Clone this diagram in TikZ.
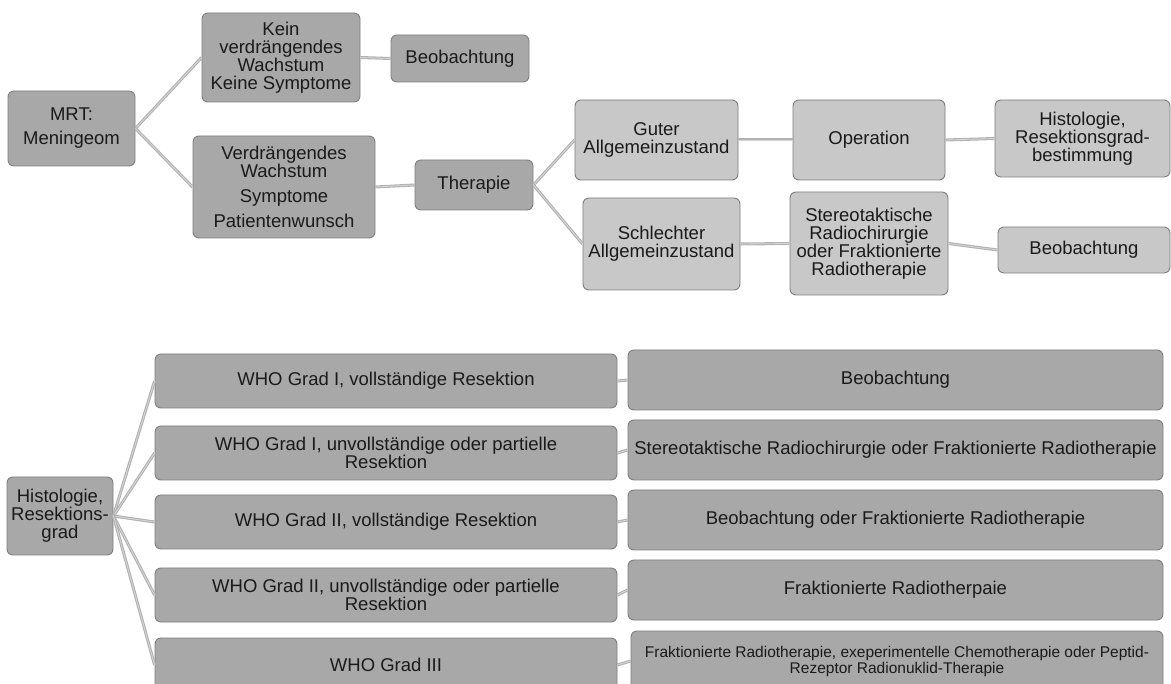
\documentclass[tikz,border=0pt]{standalone}
\usepackage{fontspec}
\setmainfont{Liberation Sans}
\definecolor{darkfill}{HTML}{A8A8A8}
\definecolor{lightfill}{HTML}{C8C8C8}
\definecolor{edgegray}{HTML}{7E7E7E}
\definecolor{linkgray}{HTML}{B2B2B2}
\definecolor{linklight}{HTML}{D6D6D6}
\definecolor{txt}{HTML}{1A1A1A}
\tikzset{
  box/.style={draw=edgegray, line width=0.9pt, rounded corners=6pt, fill=darkfill,
    align=center, inner sep=1pt, text=txt, font=\fontsize{18.5}{18}\selectfont},
  lbox/.style={box, fill=lightfill},
  link/.style={draw=linkgray, line width=3pt},
}
\newcommand{\lnk}[2]{\draw[link] (#1.east) -- (#2.west); \draw[linklight, line width=0.8pt] (#1.east) -- (#2.west);}
\begin{document}
\begin{tikzpicture}[x=1pt,y=-1pt]
\useasboundingbox (0,0) rectangle (1171,684);
% top part
\node[box, minimum width=127pt, minimum height=75pt] (mrt) at (71.5,128.5) {MRT:\\[6pt]Meningeom};
\node[box, minimum width=158pt, minimum height=89pt] (kein) at (281,57.5) {Kein\\verdrängendes\\Wachstum\\Keine Symptome};
\node[box, minimum width=138pt, minimum height=47pt] (beob1) at (460,58.5) {Beobachtung};
\node[box, minimum width=182pt, minimum height=102pt] (verd) at (284,187) {Verdrängendes\\Wachstum\\[7pt]Symptome\\[7pt]Patientenwunsch};
\node[box, minimum width=118pt, minimum height=50pt] (ther) at (474,185) {Therapie};
\node[lbox, minimum width=163pt, minimum height=80pt] (guter) at (656.5,140) {Guter\\Allgemeinzustand};
\node[lbox, minimum width=152pt, minimum height=80pt] (oper) at (869,140) {Operation};
\node[lbox, minimum width=175pt, minimum height=77pt] (hist1) at (1082.5,138.5) {Histologie,\\Resektionsgrad-\\bestimmung};
\node[lbox, minimum width=157pt, minimum height=92pt] (schl) at (661.5,244) {Schlechter\\Allgemeinzustand};
\node[lbox, minimum width=158pt, minimum height=103pt] (stereo) at (869,243.5) {Stereotaktische\\Radiochirurgie\\oder Fraktionierte\\Radiotherapie};
\node[lbox, minimum width=172pt, minimum height=46pt] (beob2) at (1084,250) {Beobachtung};
% bottom part
\node[box, minimum width=106pt, minimum height=78pt] (hist2) at (60,516) {Histologie,\\Resektions-\\grad};
\node[box, minimum width=462pt, minimum height=54pt] (w1) at (386,381) {WHO Grad I, vollständige Resektion};
\node[box, minimum width=462pt, minimum height=54pt] (w2) at (386,453) {WHO Grad I, unvollständige oder partielle\\Resektion};
\node[box, minimum width=462pt, minimum height=54pt] (w3) at (386,522) {WHO Grad II, vollständige Resektion};
\node[box, minimum width=462pt, minimum height=54pt] (w4) at (386,595) {WHO Grad II, unvollständige oder partielle\\Resektion};
\node[box, minimum width=462pt, minimum height=54pt] (w5) at (386,665) {WHO Grad III};
\node[box, minimum width=535pt, minimum height=60pt] (r1) at (895.5,380) {Beobachtung};
\node[box, minimum width=535pt, minimum height=60pt] (r2) at (895.5,450) {Stereotaktische Radiochirurgie oder Fraktionierte Radiotherapie};
\node[box, minimum width=535pt, minimum height=60pt] (r3) at (895.5,520) {Beobachtung oder Fraktionierte Radiotherapie};
\node[box, minimum width=535pt, minimum height=60pt] (r4) at (895.5,590) {Fraktionierte Radiotherpaie};
\node[box, minimum width=532pt, minimum height=60pt, font=\fontsize{15.5}{16}\selectfont] (r5) at (897,661) {Fraktionierte Radiotherapie, exeperimentelle Chemotherapie oder Peptid-\\Rezeptor Radionuklid-Therapie};
% connectors
\lnk{mrt}{kein}
\lnk{mrt}{verd}
\lnk{kein}{beob1}
\lnk{verd}{ther}
\lnk{ther}{guter}
\lnk{ther}{schl}
\lnk{guter}{oper}
\lnk{oper}{hist1}
\lnk{schl}{stereo}
\lnk{stereo}{beob2}
\lnk{hist2}{w1}
\lnk{hist2}{w2}
\lnk{hist2}{w3}
\lnk{hist2}{w4}
\lnk{hist2}{w5}
\lnk{w1}{r1}
\lnk{w2}{r2}
\lnk{w3}{r3}
\lnk{w4}{r4}
\lnk{w5}{r5}
\end{tikzpicture}
\end{document}
